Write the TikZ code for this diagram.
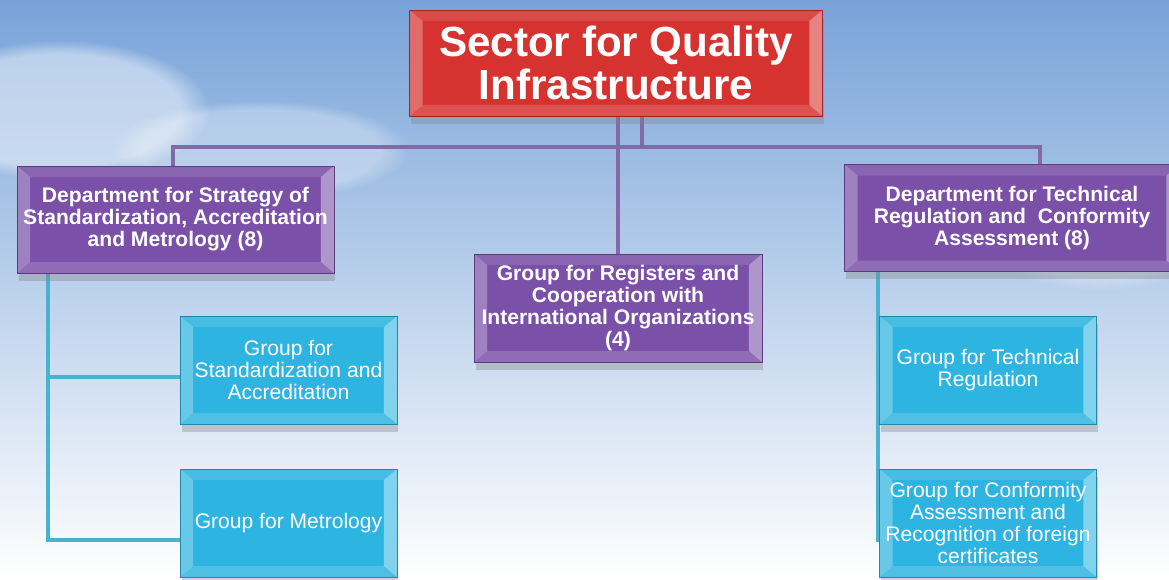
\documentclass[tikz,border=0pt]{standalone}
\usepackage{fontspec}
\setmainfont{Liberation Sans}
\usetikzlibrary{calc, shadows, fadings, backgrounds}
\definecolor{sectorred}{RGB}{214,50,48}
\definecolor{deptpurple}{RGB}{122,80,168}
\definecolor{groupcyan}{RGB}{46,180,224}
\definecolor{linepurple}{RGB}{132,104,168}
\definecolor{linecyan}{RGB}{74,178,206}
\definecolor{skyblue}{RGB}{120,163,217}
\definecolor{skymid}{RGB}{214,226,241}
\pgfdeclarelayer{links}
\pgfsetlayers{background,links,main}

\begin{document}
\begin{tikzpicture}[x=0.02cm, y=-0.02cm]
	\tikzstyle{bevel}=[path picture={
		\coordinate (nw) at (path picture bounding box.north west);
		\coordinate (ne) at (path picture bounding box.north east);
		\coordinate (sw) at (path picture bounding box.south west);
		\coordinate (se) at (path picture bounding box.south east);
		\fill[white, opacity=0.12] (nw) -- (ne) -- ([xshift=-0.26cm, yshift=-0.22cm]ne) -- ([xshift=0.26cm, yshift=-0.22cm]nw) -- cycle;
		\fill[white, opacity=0.16] (sw) -- (se) -- ([xshift=-0.26cm, yshift=0.22cm]se) -- ([xshift=0.26cm, yshift=0.22cm]sw) -- cycle;
		\fill[white, opacity=0.28] (nw) -- ([xshift=0.26cm, yshift=-0.22cm]nw) -- ([xshift=0.26cm, yshift=0.22cm]sw) -- (sw) -- cycle;
		\fill[white, opacity=0.4] (ne) -- ([xshift=-0.26cm, yshift=-0.22cm]ne) -- ([xshift=-0.26cm, yshift=0.22cm]se) -- (se) -- cycle;
	}]
	\tikzstyle{box}=[rectangle, bevel, text=white, align=center,
	drop shadow={opacity=0.35, shadow xshift=0.03cm, shadow yshift=-0.16cm}]
	\tikzstyle{sector}=[box, draw=sectorred!75!black, fill=sectorred,
	font=\fontsize{24}{24.5}\selectfont\bfseries, minimum width=8.26cm, minimum height=2.12cm]
	\tikzstyle{department}=[box, draw=deptpurple!75!black, fill=deptpurple,
	font=\fontsize{12}{12.5}\selectfont\bfseries, minimum height=2.14cm]
	\tikzstyle{group}=[box, draw=groupcyan!75!black, fill=groupcyan,
	font=\fontsize{12}{12.5}\selectfont, minimum width=4.34cm, minimum height=2.16cm]
	\tikzstyle{purpleline}=[linepurple, line width=2.8pt]
	\tikzstyle{cyanline}=[linecyan, line width=2.8pt]

	\clip (0,0) rectangle (1169,579);

	\node[sector] at (616,63) (sector) {Sector for Quality\\Infrastructure};
	\node[department, minimum width=6.34cm] at (175.5,219.5) (deptStrategy)
	{Department for Strategy of\\Standardization, Accreditation\\and Metrology (8)};
	\node[department, minimum width=6.7cm] at (1012,218) (deptTechnical)
	{Department for Technical\\Regulation and \ Conformity\\Assessment (8)};
	\node[department, minimum width=5.76cm, minimum height=2.16cm] at (618,308) (grpRegisters)
	{Group for Registers and\\Cooperation with\\International Organizations\\(4)};
	\node[group] at (288.5,370) (grpStandard) {Group for\\Standardization and\\Accreditation};
	\node[group] at (288.5,523) (grpMetrology) {Group for Metrology};
	\node[group] at (988,370) (grpTechnical) {Group for Technical\\Regulation};
	\node[group] at (988,523) (grpConformity)
	{Group for Conformity\\Assessment and\\Recognition of foreign\\certificates};

	% sky
	\begin{pgfonlayer}{background}
	\shade[top color=skyblue, middle color=skymid, bottom color=white] (0,0) rectangle (1169,579);
	\fill[white, path fading=circle with fuzzy edge 20 percent, opacity=0.45] (60,110) ellipse (3cm and 1.4cm);
	\fill[white, path fading=circle with fuzzy edge 20 percent, opacity=0.3] (260,150) ellipse (3cm and 1cm);
	\fill[white, path fading=circle with fuzzy edge 20 percent, opacity=0.25] (1100,230) ellipse (2.5cm and 1.2cm);
	\end{pgfonlayer}

	% connectors
	\coordinate (busL) at (173,147);
	\coordinate (busR) at (1040,147);
	\coordinate (trunkL) at (48,273);
	\coordinate (trunkR) at (878,271);
	\begin{pgfonlayer}{links}
	\draw[purpleline] (deptStrategy.north -| busL) -- (busL) -- (busR) -- (deptTechnical.north -| busR);
	\draw[purpleline] (sector.south -| grpRegisters.north) -- (grpRegisters.north);
	\draw[purpleline] ([xshift=0.52cm]sector.south) -- ([xshift=0.52cm]sector.south |- busR);
	\draw[cyanline] (trunkL) |- ([yshift=-0.14cm]grpStandard.west);
	\draw[cyanline] (trunkL) |- ([yshift=-0.34cm]grpMetrology.west);
	\draw[cyanline] (trunkR) |- ([yshift=-0.34cm]grpConformity.west);
	\draw[cyanline] (trunkR) |- (grpTechnical.west);
	\end{pgfonlayer}
\end{tikzpicture}
\end{document}
